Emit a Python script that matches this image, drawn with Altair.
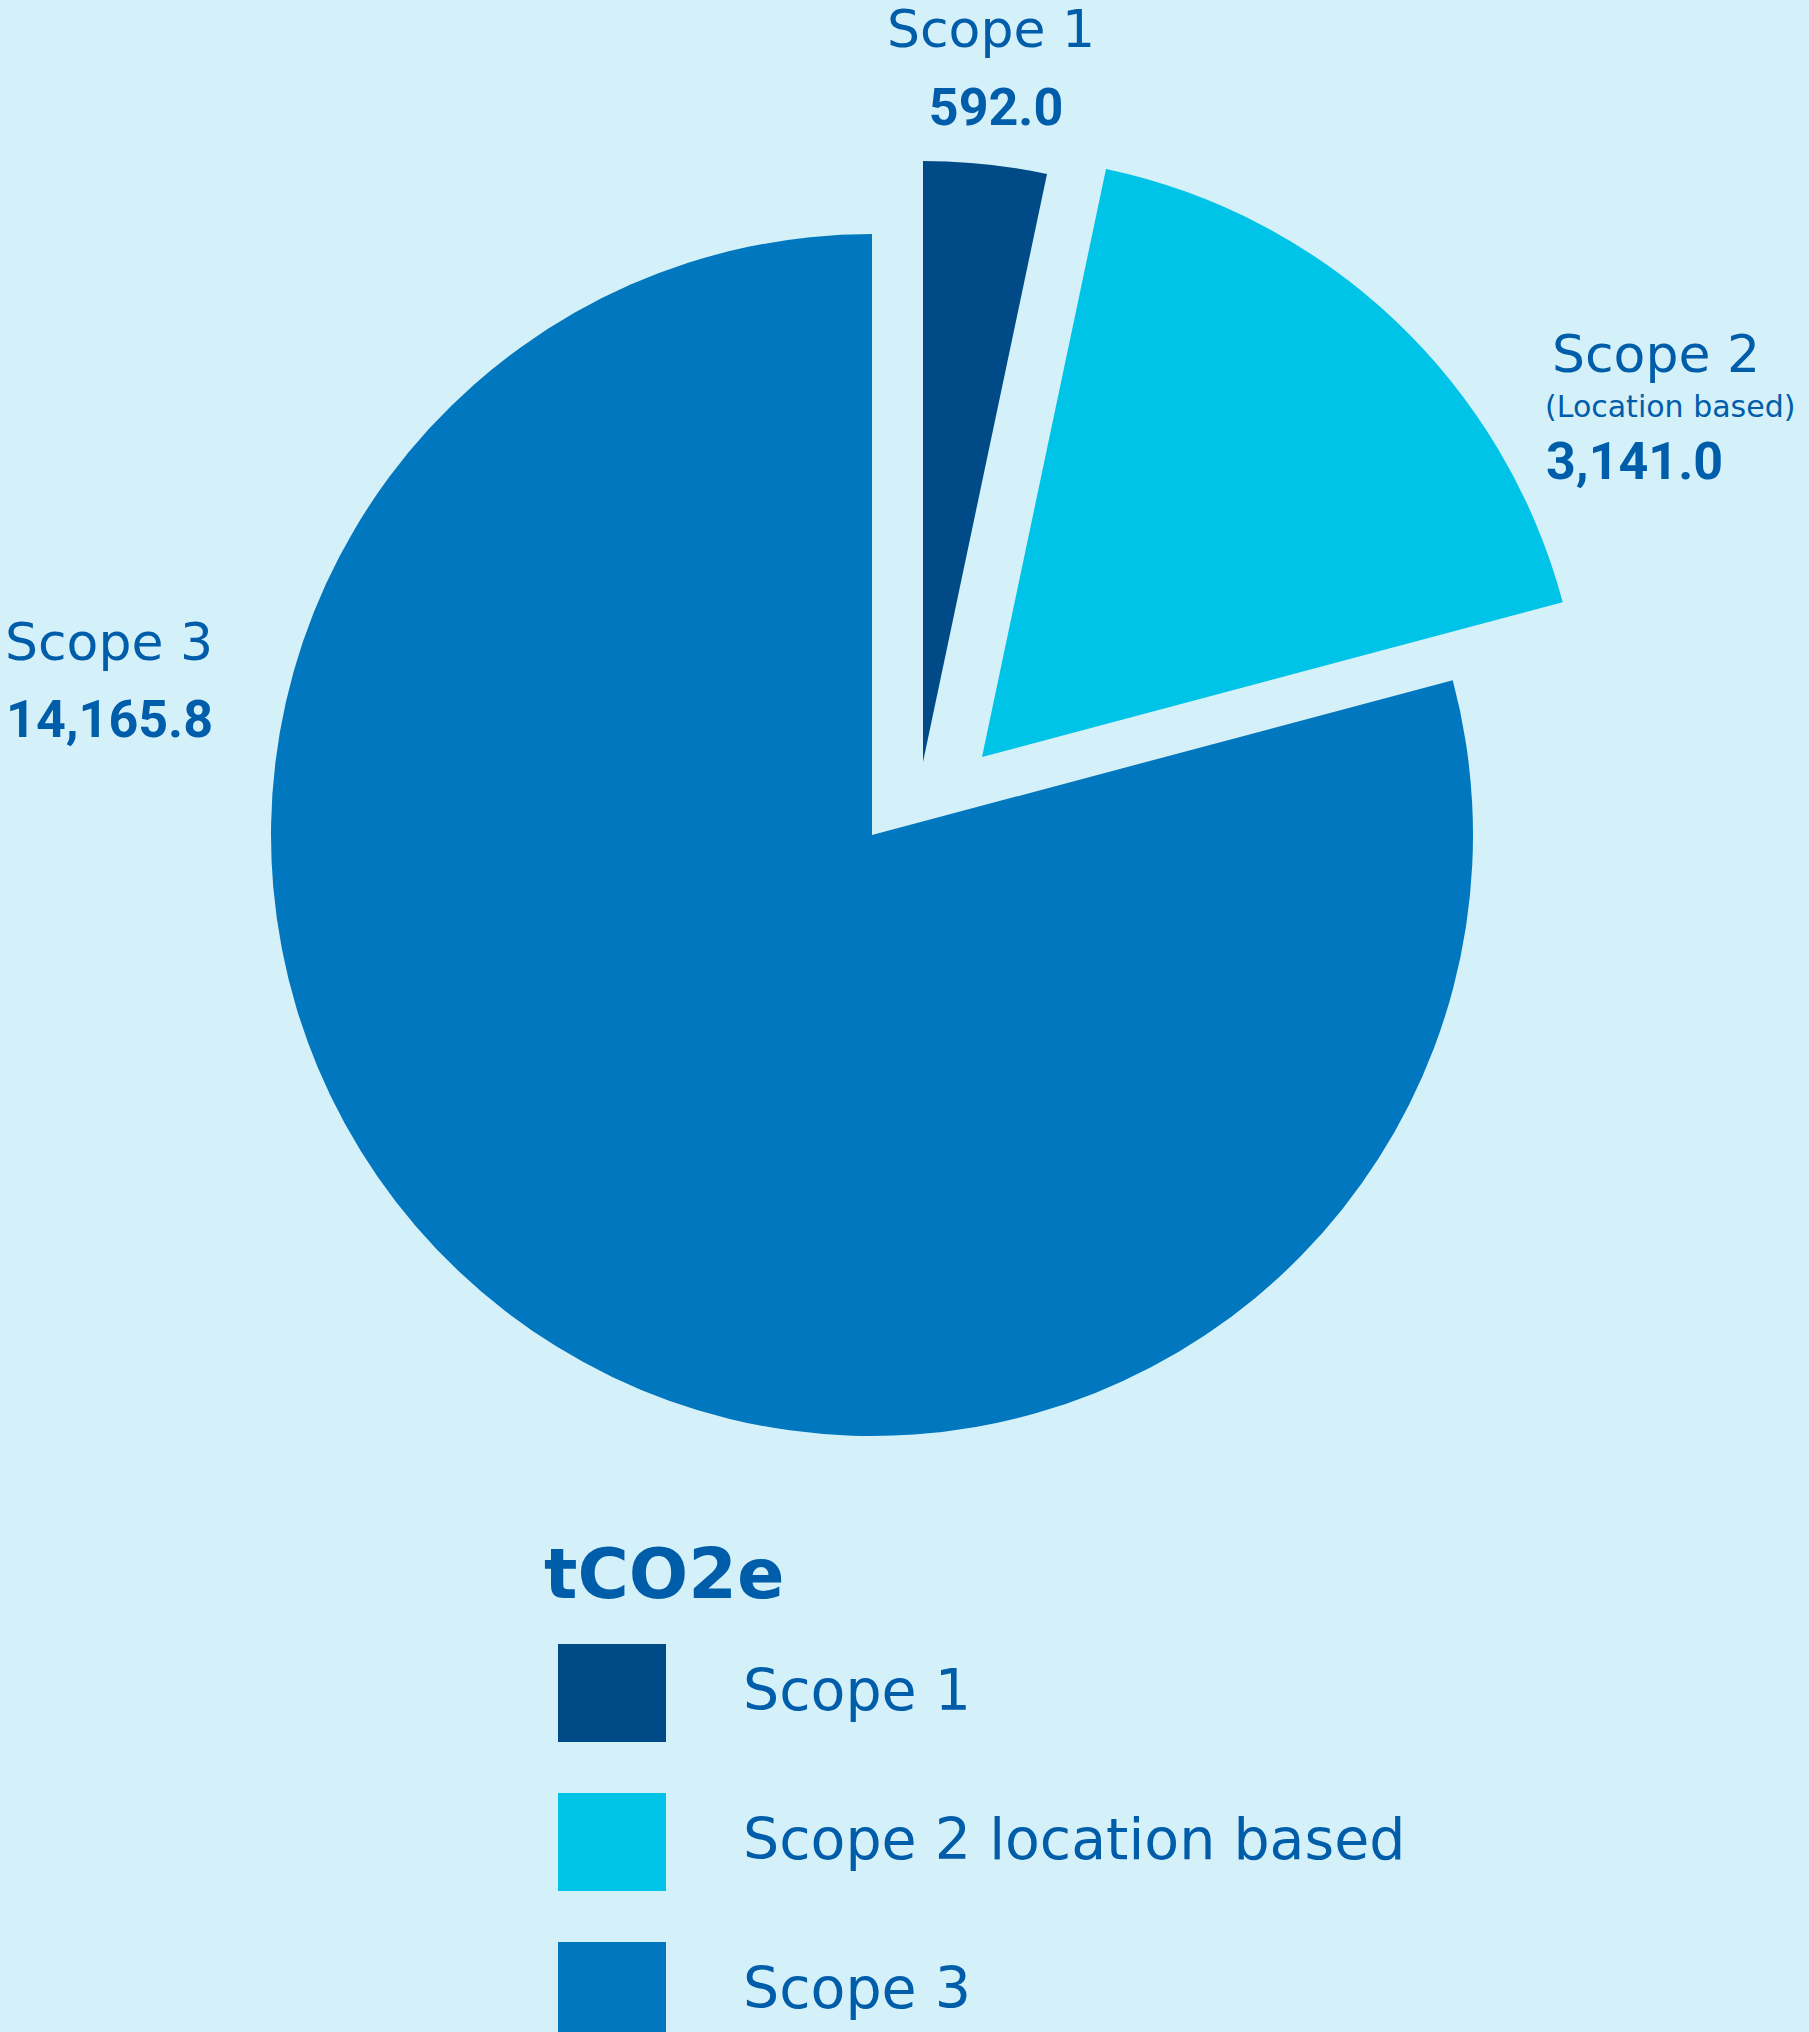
import math
import altair as alt
import pandas as pd

# ---- data ----
categories = ["Scope 1", "Scope 2 location based", "Scope 3"]
values = [592.0, 3141.0, 14165.8]
orders = [0, 1, 2]
pie_titles = ["Scope 1", "Scope 2", "Scope 3"]
pie_subtitles = ["", "(Location based)", ""]
pie_values = ["592.0", "3,141.0", "14,165.8"]
legend_title = "tCO2e"

# ---- styles ----
colors = ["#004A87", "#00C3E8", "#0077BE"]
bg = "#D4F0F8"
text_color = "#005DAA"
R = 601
centers = {
    "Scope 1": (923, 762),
    "Scope 2 location based": (982, 757),
    "Scope 3": (872, 835),
}

df = pd.DataFrame({"category": categories, "value": values, "order": orders})
total = sum(values)

color_enc = alt.Color(
    "category:N",
    scale=alt.Scale(domain=categories, range=colors),
    sort=categories,
    legend=alt.Legend(
        title=legend_title,
        orient="none",
        legendX=544,
        legendY=1543,
        titleFont="DejaVu Sans",
        titleFontWeight="bold",
        titleFontSize=70,
        titleColor=text_color,
        titlePadding=26,
        titleLimit=2000,
        symbolType="M-1,-0.907H1V0.907H-1Z",
        symbolSize=11664,
        symbolStrokeWidth=0,
        symbolOpacity=1,
        symbolOffset=14,
        labelFont="DejaVu Sans",
        labelFontSize=57,
        labelColor=text_color,
        labelOffset=77,
        labelLimit=1000,
        rowPadding=46,
    ),
)

base = (
    alt.Chart(df)
    .transform_window(cum="sum(value)", sort=[alt.SortField("order")], frame=[None, 0])
    .transform_calculate(start="datum.cum - datum.value")
)

layers = []
for cat in categories:
    cx, cy = centers[cat]
    layers.append(
        base.transform_filter(alt.datum.category == cat)
        .mark_arc(radius=R, stroke=None)
        .encode(
            x=alt.value(cx),
            y=alt.value(cy),
            theta=alt.Theta(
                "start:Q",
                stack=None,
                scale=alt.Scale(domain=[0, total], range=[0, 2 * math.pi]),
            ),
            theta2="cum:Q",
            color=color_enc,
        )
    )


def label(text, x, y, size, font, weight, align):
    d = pd.DataFrame({"t": [text]})
    return (
        alt.Chart(d)
        .mark_text(
            font=font,
            fontSize=size,
            fontWeight=weight,
            align=align,
            baseline="alphabetic",
            color=text_color,
        )
        .encode(text="t:N", x=alt.value(x), y=alt.value(y))
    )


labels = [
    label(pie_titles[0], 991, 47, 52, "DejaVu Sans", "normal", "center"),
    label(pie_values[0], 996, 125, 52, "Roboto", "bold", "center"),
    label(pie_titles[1], 1552, 372, 52, "DejaVu Sans", "normal", "left"),
    label(pie_subtitles[1], 1545, 417, 30, "DejaVu Sans", "normal", "left"),
    label(pie_values[1], 1546, 479, 52, "Roboto", "bold", "left"),
    label(pie_titles[2], 213, 660, 52, "DejaVu Sans", "normal", "right"),
    label(pie_values[2], 213, 737, 52, "Roboto", "bold", "right"),
]

chart = (
    alt.layer(*layers, *labels)
    .properties(width=1809, height=2032, padding=0, autosize="none", background=bg)
    .configure_view(stroke=None)
)

chart.save("out.html", embed_options={"renderer": "svg", "actions": False})
